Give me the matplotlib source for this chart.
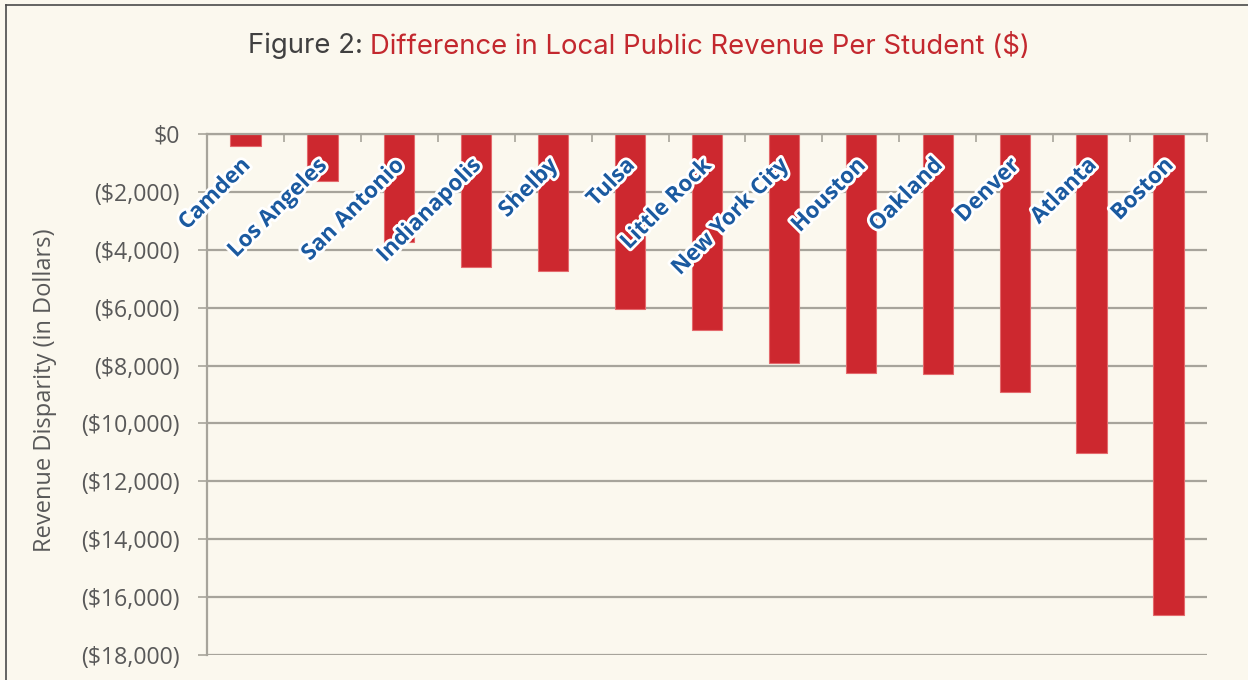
import matplotlib
matplotlib.use("Agg")
import matplotlib.pyplot as plt
import matplotlib.patheffects as pe
from matplotlib.lines import Line2D

cities = ["Camden", "Los Angeles", "San Antonio", "Indianapolis", "Shelby", "Tulsa",
          "Little Rock", "New York City", "Houston", "Oakland", "Denver", "Atlanta", "Boston"]
disparity = [-410, -1610, -3720, -4580, -4750, -6030, -6760, -7900, -8260, -8290,
             -8930, -11030, -16610]
yticks = [0, -2000, -4000, -6000, -8000, -10000, -12000, -14000, -16000, -18000]
ytick_labels = ["$0", "($2,000)", "($4,000)", "($6,000)", "($8,000)", "($10,000)",
                "($12,000)", "($14,000)", "($16,000)", "($18,000)"]

BG = "#fbf8ee"
GRID = "#a7a49b"
TXT = "#595959"

fig = plt.figure(figsize=(12.48, 6.8), dpi=100, facecolor=BG)
ax = fig.add_axes([207/1248, 1-655/680, 1000/1248, (655-134)/680])
ax.set_facecolor(BG)

x = list(range(len(cities)))
ax.bar(x, disparity, width=0.394, color="#cd282f", edgecolor="#e46a6d",
       linewidth=0.8, zorder=3)

ax.set_xlim(-0.5, len(cities) - 0.5)
ax.set_ylim(-18000, 0)
ax.set_yticks(yticks)
ax.set_yticklabels(ytick_labels, fontsize=16.7, color=TXT, family="Open Sans")
ax.yaxis.grid(True, color=GRID, linewidth=1.6, zorder=0)
ax.tick_params(axis="y", length=6.5, width=1.2, color=GRID, pad=13)

ax.xaxis.tick_top()
ax.set_xticks([i - 0.5 for i in range(len(cities) + 1)])
ax.set_xticklabels([])
ax.tick_params(axis="x", direction="in", length=6, width=1.2, color=GRID)

for s in ["right", "bottom"]:
    ax.spines[s].set_visible(False)
for s in ["left", "top"]:
    ax.spines[s].set_color(GRID)
    ax.spines[s].set_linewidth(1.6)
    ax.spines[s].set_zorder(4)

for i, name in enumerate(cities):
    ax.annotate(name, xy=(i, 0), xytext=(-4, -15), textcoords="offset points",
                ha="right", va="top", rotation=45, rotation_mode="anchor",
                fontsize=16, fontweight="bold", color="#1b5aa0", family="Open Sans",
                zorder=5,
                path_effects=[pe.withStroke(linewidth=4, foreground="white")])

fig.text(45/1248, 1-390/680, "Revenue Disparity (in Dollars)", rotation=90,
         ha="center", va="center", fontsize=17, color=TXT, family="Open Sans")

# title
t1 = fig.text(0, 1-46/680, "Figure 2: ", fontsize=19.8, color="#404040", family="Inter",
              ha="left", va="center")
t2 = fig.text(0, 1-46/680, "Difference in Local Public Revenue Per Student ($)",
              fontsize=19.8, color="#c3282e", family="Inter", ha="left", va="center")
fig.canvas.draw()
r = fig.canvas.get_renderer()
w1 = t1.get_window_extent(r).width
w2 = t2.get_window_extent(r).width
start = (639 - (w1 + w2) / 2) / 1248
t1.set_x(start)
t2.set_x(start + w1 / 1248)

# outer frame
fig.add_artist(Line2D([6/1248, 6/1248], [0, 1-5/680], color="#4a4a4a", linewidth=1.2,
                      transform=fig.transFigure))
fig.add_artist(Line2D([6/1248, 1], [1-5/680, 1-5/680], color="#4a4a4a", linewidth=1.2,
                      transform=fig.transFigure))

fig.savefig("out.png", dpi=100, facecolor=BG)
